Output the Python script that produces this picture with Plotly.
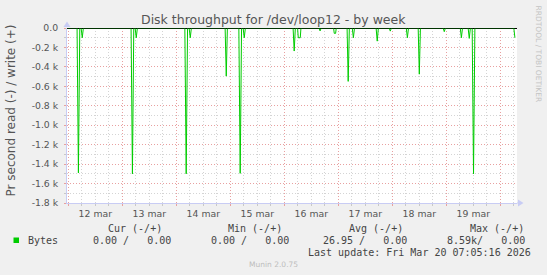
import plotly.graph_objects as go

# ---------------- data ----------------
# hours since 2026-03-12 00:00, read bytes/s shown negative (munin "read (-)")
t_hours = [-0.5,
           3.9, 4.5, 5.1,
           5.7, 6.2, 6.7,
           27.9, 28.5, 29.1,
           29.7, 30.2, 30.7,
           51.8, 52.4, 53.0,
           53.7, 54.2, 54.7,
           69.7, 70.2, 70.7,
           75.8, 76.4, 77.0,
           77.7, 78.2, 78.7,
           99.9, 100.4, 100.9,
           101.9, 102.2, 103.1, 103.4,
           111.4, 111.9, 112.4,
           117.9, 118.2, 118.8, 119.1,
           123.9, 124.4, 124.9,
           126.2, 126.7, 127.2,
           136.8, 137.3, 137.8,
           142.6, 143.1, 143.6,
           150.2, 150.7, 151.2,
           155.5, 156.0, 156.5,
           166.6, 167.1, 167.6,
           174.2, 174.7, 175.2,
           177.7, 178.2, 178.7,
           179.5, 180.1, 180.7,
           198.0, 198.5]
read_values = [0,
               0, -1490, 0,
               0, -100, 0,
               0, -1500, 0,
               0, -100, 0,
               0, -1500, 0,
               0, -100, 0,
               0, -495, 0,
               0, -1495, 0,
               0, -100, 0,
               0, -237, 0,
               0, -100, -100, 0,
               0, -30, 0,
               0, -55, -55, 0,
               0, -549, 0,
               0, -100, 0,
               0, -135, 0,
               0, -32, 0,
               0, -100, 0,
               0, -475, 0,
               0, -38, 0,
               0, -100, 0,
               0, -107, 0,
               0, -1500, 0,
               0, -100]

day_ticks = [0, 24, 48, 72, 96, 120, 144, 168, 192]
day_labels = ["12 mar", "13 mar", "14 mar", "15 mar", "16 mar",
              "17 mar", "18 mar", "19 mar", ""]
y_ticks = [0, -200, -400, -600, -800, -1000, -1200, -1400, -1600, -1800]
y_labels = ["0.0", "-0.2 k", "-0.4 k", "-0.6 k", "-0.8 k", "-1.0 k",
            "-1.2 k", "-1.4 k", "-1.6 k", "-1.8 k"]

series_name = "Bytes"
cur_vals = ["0.00", "0.00"]
min_vals = ["0.00", "0.00"]
avg_vals = ["26.95", "0.00"]
max_vals = ["8.59k", "0.00"]
last_update = "Last update: Fri Mar 20 07:05:16 2026"

# ---------------- layout geometry ----------------
W, H = 547, 275
ML, MR, MT, MB = 67, 30, 28, 72
PW, PH = W - ML - MR, H - MT - MB
X0 = -(68.3 - 67) / 2.25
X1 = X0 + PW / 2.25


def px(p):
    return (p - ML) / PW


def py(p):
    return 1 - (p - MT) / PH


GREEN = "#00cc00"
MAJ = "#e8a0a0"
MIN = "#d4d4d4"
AXC = "#c8ccf4"
TXT = "#555555"
NB = "\u00a0"

fig = go.Figure()
fig.add_trace(go.Scatter(x=t_hours, y=read_values, mode="lines",
                         line=dict(color=GREEN, width=1), hoverinfo="skip",
                         showlegend=False))

fig.update_layout(
    width=W, height=H,
    margin=dict(l=ML, r=MR, t=MT, b=MB, pad=0),
    paper_bgcolor="#f0f0f0", plot_bgcolor="#ffffff",
    font=dict(family="DejaVu Sans", color=TXT, size=9.3),
    showlegend=False,
)
fig.update_xaxes(
    range=[X0, X1], automargin=False,
    tickmode="array", tickvals=day_ticks, ticktext=day_labels,
    ticklabelshift=27, ticks="outside", ticklen=2, tickcolor=MAJ,
    showgrid=True, gridcolor=MAJ, griddash="1px,2px", gridwidth=1,
    showline=True, linecolor=AXC, linewidth=1,
    zeroline=False,
    tickfont=dict(size=9.3, color=TXT),
    minor=dict(tickmode="linear", tick0=0, dtick=6, showgrid=True,
               gridcolor=MIN, griddash="1px,2px", ticks="outside",
               ticklen=2, tickcolor="#c8c8c8"),
)
fig.update_yaxes(
    range=[-1800, 0], automargin=False,
    tickmode="array", tickvals=y_ticks, ticktext=y_labels,
    ticks="outside", ticklen=2, tickcolor=MAJ, ticklabelstandoff=4,
    showgrid=True, gridcolor=MAJ, griddash="1px,2px", gridwidth=1,
    showline=True, linecolor=AXC, linewidth=1,
    zeroline=True, zerolinecolor="#000000", zerolinewidth=1,
    tickfont=dict(size=9.3, color=TXT),
    minor=dict(tickmode="linear", tick0=0, dtick=100, showgrid=True,
               gridcolor=MIN, griddash="1px,2px", ticks="outside",
               ticklen=2, tickcolor="#c8c8c8"),
)

shapes = []
# black zero line (HRULE) across the plot
shapes.append(dict(type="line", xref="paper", yref="y", x0=0, x1=1, y0=0, y1=0,
                   line=dict(color="#000000", width=1), layer="above"))
# axis arrows
shapes.append(dict(type="path", xref="paper", yref="paper",
                   path=f"M {px(518)},{py(199.5)} L {px(523.5)},{py(203)} L {px(518)},{py(206.5)} Z",
                   fillcolor=AXC, line=dict(width=0)))
shapes.append(dict(type="line", xref="paper", yref="paper",
                   x0=1, x1=px(519), y0=0, y1=0, line=dict(color=AXC, width=1)))
shapes.append(dict(type="path", xref="paper", yref="paper",
                   path=f"M {px(63.5)},{py(27)} L {px(67)},{py(21.5)} L {px(70.5)},{py(27)} Z",
                   fillcolor=AXC, line=dict(width=0)))
# legend swatch
shapes.append(dict(type="rect", xref="paper", yref="paper",
                   x0=px(13.5), x1=px(19), y0=py(237.5), y1=py(243),
                   fillcolor=GREEN, line=dict(width=0)))
fig.update_layout(shapes=shapes)

MONO = "DejaVu Sans Mono"
LEG = "#444444"


def ann(text, x, y, xanchor="center", size=10, color=LEG, family=MONO, angle=0):
    return dict(text=text, x=px(x), y=py(y), xref="paper", yref="paper",
                xanchor=xanchor, yanchor="middle", showarrow=False,
                textangle=angle, font=dict(size=size, color=color, family=family))


def pair(v):
    a, b = v
    sep = "/" if a.endswith("k") else NB + "/"
    return a + sep + NB * 3 + b


annotations = [
    ann("Disk throughput for /dev/loop12 - by week", 273.5, 19, size=12.5,
        color=TXT, family="DejaVu Sans"),
    ann("Pr second read (-) / write (+)", 10, 110.5, size=12, color=TXT,
        family="DejaVu Sans", angle=-90),
    ann("RRDTOOL / TOBI OETIKER", 538, 53.5, size=7.5, color="#c4c4c4",
        family="DejaVu Sans", angle=90),
    ann("Cur" + NB + "(-/+)", 164, 228, xanchor="right"),
    ann("Min" + NB + "(-/+)", 284, 228, xanchor="right"),
    ann("Avg" + NB + "(-/+)", 405, 228, xanchor="right"),
    ann("Max" + NB + "(-/+)", 526, 228, xanchor="right"),
    ann(series_name, 26, 240, xanchor="left"),
    ann(pair(cur_vals), 173, 240, xanchor="right"),
    ann(pair(min_vals), 291, 240, xanchor="right"),
    ann(pair(avg_vals), 409, 240, xanchor="right"),
    ann(pair(max_vals), 527, 240, xanchor="right"),
    ann(last_update.replace(" ", NB), 533, 252, xanchor="right"),
    ann("Munin 2.0.75", 273, 264, size=7.5, color="#bdbdbd", family="DejaVu Sans"),
]
fig.update_layout(annotations=annotations)

fig.write_html("out.html")
